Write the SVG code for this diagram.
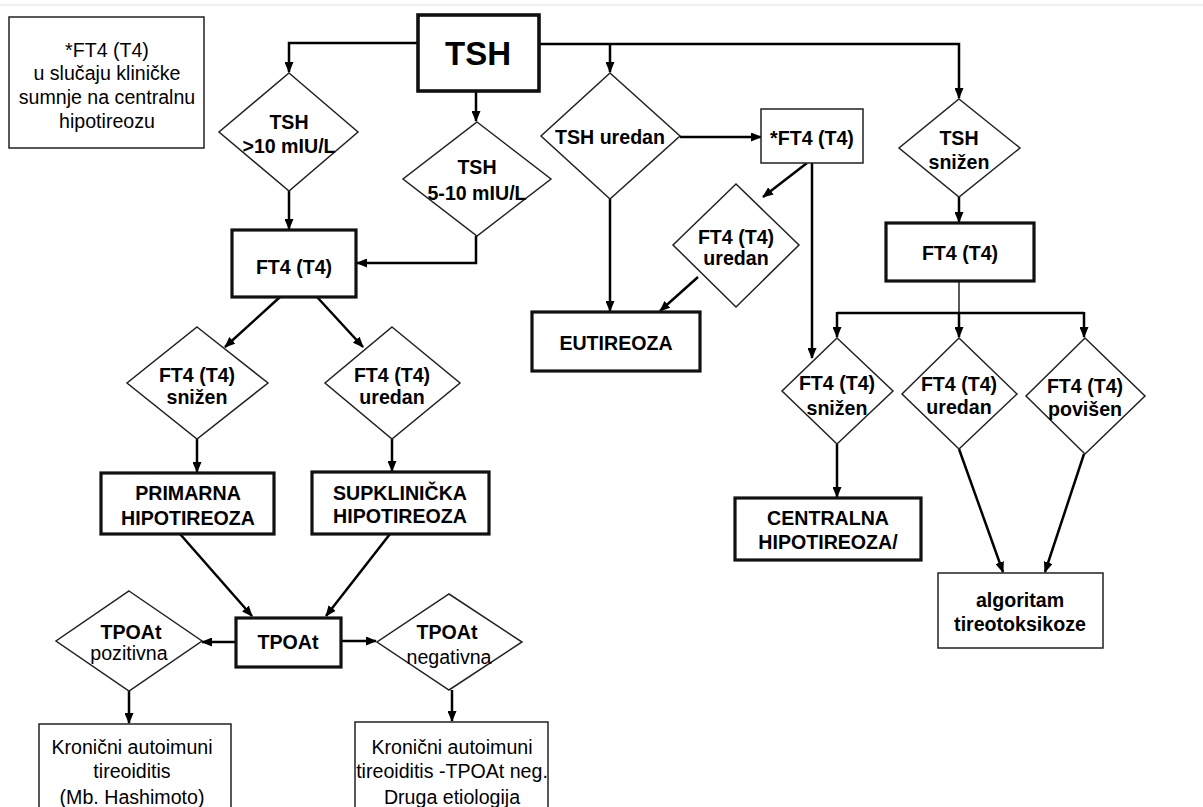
<svg xmlns="http://www.w3.org/2000/svg" width="1203" height="807" viewBox="0 0 1203 807">
<defs>
<marker id="ah" markerUnits="userSpaceOnUse" markerWidth="11" markerHeight="9" refX="10" refY="4.5" orient="auto">
<path d="M0,0 L11,4.5 L0,9 z" fill="#000"/>
</marker>
<style>
.thin{fill:#fff;stroke:#222;stroke-width:1.5}
.thick{fill:#fff;stroke:#111;stroke-width:3.2}
.dia{fill:#fff;stroke:#222;stroke-width:1.5}
.b{font-family:"Liberation Sans",Arial,sans-serif;font-weight:bold;font-size:19.6px;fill:#000;text-anchor:middle}
.n{font-family:"Liberation Sans",Arial,sans-serif;font-size:19.6px;fill:#000;text-anchor:middle}
.c{fill:none;stroke:#000;stroke-width:2.5}
.ca{fill:none;stroke:#000;stroke-width:2.5;marker-end:url(#ah)}
.cthin{fill:none;stroke:#000;stroke-width:1.3}
</style>
</defs>
<rect x="0" y="0" width="1203" height="807" fill="#fff"/>
<line x1="0" y1="5" x2="1203" y2="5" stroke="#f0f0f0" stroke-width="2"/>
<g id="connectors">
<path class="ca" d="M418,43 H289 V72"/>
<path class="ca" d="M539,44 H959 V98"/>
<path class="ca" d="M610,44 V72"/>
<path class="ca" d="M476,91 V121"/>
<path class="ca" d="M289,191 V229"/>
<path class="ca" d="M476,236 V263 H357"/>
<path class="ca" d="M280,297 L225,347"/>
<path class="ca" d="M317,297 L363,347"/>
<path class="ca" d="M197,439 V472"/>
<path class="ca" d="M392,439 V471"/>
<path class="ca" d="M180,534 L252,616"/>
<path class="ca" d="M390,534 L326,616"/>
<path class="ca" d="M236,642 H202"/>
<path class="ca" d="M341,641 H376"/>
<path class="ca" d="M129,691 V723"/>
<path class="ca" d="M452,690 V721"/>
<path class="ca" d="M680,137 H761"/>
<path class="ca" d="M610,199 V311"/>
<path class="ca" d="M807,163 L763,197"/>
<path class="ca" d="M698,277 L660,311"/>
<path class="ca" d="M812,163 V358"/>
<path class="ca" d="M959,197 V222"/>
<path class="cthin" d="M959,281 V313"/>
<path class="c" d="M837,313 H1084"/>
<path class="ca" d="M837,312 V337"/>
<path class="ca" d="M959,312 V337"/>
<path class="ca" d="M1084,312 V337"/>
<path class="ca" d="M837,444 V497"/>
<path class="ca" d="M959,449 L1003,572"/>
<path class="ca" d="M1084,454 L1045,572"/>
</g>
<g id="note"><rect class="thin" x="9" y="17" width="195" height="131"/>
<text class="n" x="107" y="57">*FT4 (T4)</text><text class="n" x="107" y="80">u slučaju kliničke</text><text class="n" x="107" y="104">sumnje na centralnu</text><text class="n" x="107" y="128">hipotireozu</text></g>
<g id="tsh"><rect class="thick" x="418" y="15" width="121" height="76" style="stroke-width:3.6"/>
<text class="b" x="478" y="65" style="font-size:33px">TSH</text></g>
<g id="tsh10"><polygon class="dia" points="289,73 358,132 289,191 219,132"/>
<text class="b" x="289" y="129">TSH</text><text class="b" x="289" y="153">&gt;10 mIU/L</text></g>
<g id="tsh510"><polygon class="dia" points="477,122 551,179 477,236 403,179"/>
<text class="b" x="477" y="174">TSH</text><text class="b" x="477" y="200">5-10 mIU/L</text></g>
<g id="tshuredan"><polygon class="dia" points="610,73 680,136 610,199 541,136"/>
<text class="b" x="610" y="144">TSH uredan</text></g>
<g id="ft4star"><rect class="thin" x="761" y="109" width="102" height="54"/>
<text class="b" x="812" y="145">*FT4 (T4)</text></g>
<g id="tshsnizen"><polygon class="dia" points="959,99 1020,148 959,197 899,148"/>
<text class="b" x="959" y="145">TSH</text><text class="b" x="959" y="169">snižen</text></g>
<g id="ft4left"><rect class="thick" x="232" y="230" width="124" height="67"/>
<text class="b" x="294" y="274">FT4 (T4)</text></g>
<g id="ft4right"><rect class="thick" x="886" y="223" width="148" height="58"/>
<text class="b" x="960" y="260">FT4 (T4)</text></g>
<g id="ft4uredanmid"><polygon class="dia" points="736,184 799,245 736,307 673,245"/>
<text class="b" x="736" y="244">FT4 (T4)</text><text class="b" x="736" y="265">uredan</text></g>
<g id="eutireoza"><rect class="thick" x="532" y="312" width="168" height="59"/>
<text class="b" x="616" y="350">EUTIREOZA</text></g>
<g id="ft4snizenleft"><polygon class="dia" points="197,327 268,383 197,439 127,383"/>
<text class="b" x="197" y="382">FT4 (T4)</text><text class="b" x="197" y="404">snižen</text></g>
<g id="ft4uredanleft"><polygon class="dia" points="392,327 460,383 392,439 325,383"/>
<text class="b" x="392" y="382">FT4 (T4)</text><text class="b" x="392" y="404">uredan</text></g>
<g id="ft4snizenright"><polygon class="dia" points="837,338 893,391 837,444 782,391"/>
<text class="b" x="837" y="390">FT4 (T4)</text><text class="b" x="837" y="415">snižen</text></g>
<g id="ft4uredanright"><polygon class="dia" points="959,338 1017,394 959,449 902,394"/>
<text class="b" x="959" y="391">FT4 (T4)</text><text class="b" x="959" y="414">uredan</text></g>
<g id="ft4povisen"><polygon class="dia" points="1085,338 1145,396 1085,454 1026,396"/>
<text class="b" x="1085" y="393">FT4 (T4)</text><text class="b" x="1085" y="416">povišen</text></g>
<g id="primarna"><rect class="thick" x="101" y="473" width="173" height="61"/>
<text class="b" x="188" y="500">PRIMARNA</text><text class="b" x="188" y="525">HIPOTIREOZA</text></g>
<g id="supklinicka"><rect class="thick" x="312" y="472" width="177" height="62"/>
<text class="b" x="400" y="500">SUPKLINIČKA</text><text class="b" x="400" y="523">HIPOTIREOZA</text></g>
<g id="centralna"><rect class="thick" x="735" y="498" width="186" height="62"/>
<text class="b" x="828" y="525">CENTRALNA</text><text class="b" x="828" y="549">HIPOTIREOZA/</text></g>
<g id="algoritam"><rect class="thin" x="938" y="573" width="165" height="75"/>
<text class="b" x="1020" y="607">algoritam</text><text class="b" x="1020" y="631">tireotoksikoze</text></g>
<g id="tpoat"><rect class="thick" x="236" y="618" width="105" height="49"/>
<text class="b" x="288" y="649">TPOAt</text></g>
<g id="tpoatpoz"><polygon class="dia" points="129,591 202,641 129,691 56,641"/>
<text class="b" x="131" y="639">TPOAt</text><text class="n" x="129" y="660">pozitivna</text></g>
<g id="tpoatneg"><polygon class="dia" points="449,594 522,642 449,690 377,642"/>
<text class="b" x="447" y="639">TPOAt</text><text class="n" x="449" y="664">negativna</text></g>
<g id="hashimoto"><rect class="thin" x="39" y="724" width="192" height="95"/>
<text class="n" x="132" y="754">Kronični autoimuni</text><text class="n" x="132" y="778">tireoiditis</text><text class="n" x="132" y="804">(Mb. Hashimoto)</text></g>
<g id="drugaetiologija"><rect class="thin" x="355" y="722" width="193" height="95"/>
<text class="n" x="452" y="754">Kronični autoimuni</text><text class="n" x="452" y="778">tireoiditis -TPOAt neg.</text><text class="n" x="452" y="804">Druga etiologija</text></g>
</svg>
